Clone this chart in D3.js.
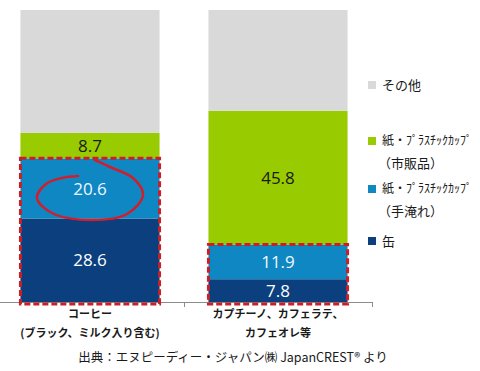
<!DOCTYPE html>
<html>
<head>
<meta charset="utf-8">
<script src="https://cdn.jsdelivr.net/npm/d3@7"></script>
<style>
  body { margin: 0; background: #fff; }
  text { font-family: "Noto Sans CJK JP", "Noto Sans", sans-serif; }
</style>
</head>
<body>
<div id="chart"></div>
<script>
// Data
var categories = ['coffee', 'latte'];
var categoryLines = [
  ['コーヒー', '(ブラック、ミルク入り含む)'],
  ['カプチーノ、カフェラテ、', 'カフェオレ等']
];
var seriesNames = ['缶', '紙・ﾌﾟﾗｽﾁｯｸｶｯﾌﾟ（手淹れ）', '紙・ﾌﾟﾗｽﾁｯｸｶｯﾌﾟ（市販品）', 'その他'];
var canValues = [28.6, 7.8];
var brewedValues = [20.6, 11.9];
var retailValues = [8.7, 45.8];
var otherValues = [42.1, 34.5];
var showLabel = [true, true, true, false];
var sourceText = '出典：エヌピーディー・ジャパン㈱ JapanCREST® より';

var colors = ['#0b3f7e', '#0f87c2', '#99cc00', '#d9d9d9'];
var labelColors = ['#ffffff', '#f0f8ff', '#1a1a1a', '#1a1a1a'];

var width = 480, height = 371;

var svg = d3.select('#chart').append('svg')
  .attr('width', width)
  .attr('height', height);

// build rows for stacking
var rows = categories.map(function(c, i) {
  return { cat: c, s0: canValues[i], s1: brewedValues[i], s2: retailValues[i], s3: otherValues[i] };
});
var stack = d3.stack().keys(['s0', 's1', 's2', 's3']);
var layers = stack(rows);

var x = d3.scaleBand()
  .domain(categories)
  .range([-4, 372])
  .paddingInner(0.26)
  .paddingOuter(0.13);

var y = d3.scaleLinear()
  .domain([0, 100])
  .range([302, 10]);

// ********** BARS **********
var layer = svg.selectAll('.layer')
  .data(layers)
  .join('g')
  .attr('class', 'layer')
  .attr('fill', (d, i) => colors[i]);

layer.selectAll('rect')
  .data(d => d)
  .join('rect')
  .attr('x', d => x(d.data.cat))
  .attr('y', d => y(d[1]))
  .attr('width', x.bandwidth())
  .attr('height', d => y(d[0]) - y(d[1]));

// value labels
layers.forEach(function(L, li) {
  if (!showLabel[li]) return;
  svg.selectAll('.vl' + li)
    .data(L)
    .join('text')
    .attr('class', 'vl' + li)
    .attr('x', d => x(d.data.cat) + x.bandwidth() / 2)
    .attr('y', d => (y(d[0]) + y(d[1])) / 2)
    .attr('dy', '0.36em')
    .attr('text-anchor', 'middle')
    .attr('fill', labelColors[li])
    .style('font-family', '"Open Sans", "Noto Sans", sans-serif')
    .style('font-size', '17px')
    .text(d => (d[1] - d[0]).toFixed(1));
});

// ********** AXIS **********
svg.append('line')
  .attr('x1', 0).attr('x2', 372)
  .attr('y1', y(0) + 0.5).attr('y2', y(0) + 0.5)
  .attr('stroke', '#8c8c8c')
  .attr('stroke-width', 1);

// ticks between and after the categories
[x.step() - 4, 372].forEach(function(tx) {
  svg.append('line')
    .attr('x1', tx + 0.5).attr('x2', tx + 0.5)
    .attr('y1', y(0)).attr('y2', y(0) + 5)
    .attr('stroke', '#8c8c8c');
});

// category labels
categories.forEach(function(c, i) {
  categoryLines[i].forEach(function(line, j) {
    svg.append('text')
      .attr('x', x(c) + x.bandwidth() / 2)
      .attr('y', 318 + j * 19)
      .attr('text-anchor', 'middle')
      .attr('fill', '#1a1a1a')
      .style('font-size', '11px')
      .style('font-weight', 'bold')
      .text(line);
  });
});

// source
svg.append('text')
  .attr('x', 233)
  .attr('y', 362)
  .attr('text-anchor', 'middle')
  .attr('fill', '#1a1a1a')
  .style('font-size', '12.5px')
  .text(sourceText);

// ********** DASHED HIGHLIGHTS **********
categories.forEach(function(c, i) {
  var top = y(canValues[i] + brewedValues[i]);
  svg.append('rect')
    .attr('x', x(c))
    .attr('y', top)
    .attr('width', x.bandwidth())
    .attr('height', y(0) - top + 2)
    .attr('fill', 'none')
    .attr('stroke', '#c8202a')
    .attr('stroke-width', 3)
    .attr('stroke-dasharray', '6,3');
});

// hand drawn circle round 20.6
var loop = [[95,160],[110,167],[133,178],[143,195],[127,214],[92,220],[52,213],[37,198],[46,184],[62,178],[78,176]];
svg.append('path')
  .attr('d', d3.line().curve(d3.curveCatmullRom)(loop))
  .attr('fill', 'none')
  .attr('stroke', '#d01f2c')
  .attr('stroke-width', 2.5)
  .attr('stroke-linecap', 'round');

// ********** LEGEND **********
var legendItems = [
  { i: 3, y: 85, lines: ['その他'] },
  { i: 2, y: 141, lines: ['紙・ﾌﾟﾗｽﾁｯｸｶｯﾌﾟ', '（市販品）'] },
  { i: 1, y: 189, lines: ['紙・ﾌﾟﾗｽﾁｯｸｶｯﾌﾟ', '（手淹れ）'] },
  { i: 0, y: 241, lines: ['缶'] }
];

legendItems.forEach(function(item) {
  svg.append('rect')
    .attr('x', 368)
    .attr('y', item.y - 4)
    .attr('width', 8)
    .attr('height', 8)
    .attr('fill', colors[item.i]);
  item.lines.forEach(function(line, j) {
    svg.append('text')
      .attr('x', j === 0 ? 382 : 378)
      .attr('y', item.y + j * 22)
      .attr('dy', '0.35em')
      .attr('fill', '#1a1a1a')
      .style('font-size', j === 0 && item.lines.length > 1 ? '12px' : '13px')
      .text(line);
  });
});
</script>
</body>
</html>
